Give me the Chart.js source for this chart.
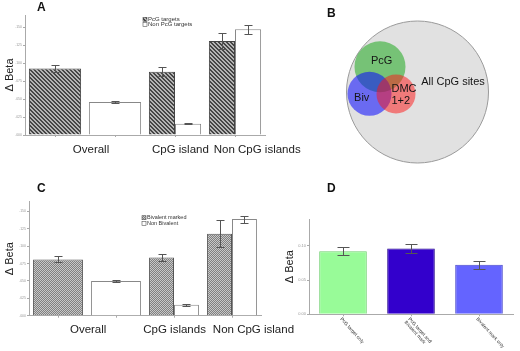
<!DOCTYPE html>
<html>
<head>
<meta charset="utf-8">
<script src="https://cdn.jsdelivr.net/npm/chart.js@4.4.1/dist/chart.umd.min.js"></script>
<style>
  body { margin: 0; width: 520px; height: 351px; background: #fff; position: relative; overflow: hidden; }
  canvas { position: absolute; }
  .tag { position: absolute; z-index: 2; font: bold 12px "Liberation Sans", Arial, sans-serif; line-height: 14px; color: #111; }
</style>
</head>
<body>
<canvas id="chartB" width="235" height="175" style="left:285px;top:0"></canvas>
<canvas id="chartA" width="305" height="165" style="left:0;top:0"></canvas>
<canvas id="chartD" width="240" height="176" style="left:280px;top:175px"></canvas>
<canvas id="chartC" width="300" height="176" style="left:0;top:175px"></canvas>
<div class="tag" style="left:37px;top:0">A</div>
<div class="tag" style="left:327px;top:6px">B</div>
<div class="tag" style="left:37px;top:181px">C</div>
<div class="tag" style="left:327px;top:181px">D</div>
<script>
// panel A: PcG targets vs non PcG targets (slot 0/1 = overall pair)
const slotsA = ["Overall PcG", "Overall non PcG", "CpG island", "Non CpG islands"];
const groupsA = ["Overall", "CpG island", "Non CpG islands"];
const pcgA = [0.0925, null, 0.088, 0.1305];
const pcgErrA = [0.0043, null, 0.0058, 0.0108];
const nonPcgA = [null, 0.0458, 0.0158, 0.147];
const nonPcgErrA = [null, 0.0017, 0.0012, 0.0062];

// panel C: bivalent marked vs non bivalent
const slotsC = ["Overall bivalent", "Overall non bivalent", "CpG islands", "Non CpG island"];
const groupsC = ["Overall", "CpG islands", "Non CpG island"];
const bivC = [0.081, null, 0.0838, 0.118];
const bivErrC = [0.0043, null, 0.0048, 0.019];
const nonBivC = [null, 0.0498, 0.0158, 0.139];
const nonBivErrC = [null, 0.0013, 0.0012, 0.005];

// panel D
const labelsD = ["PcG target only", ["PcG target and", "Bivalent mark"], "Bivalent mark only"];
const valuesD = [0.0921, 0.0959, 0.0721];
const errD = [0.0058, 0.0068, 0.0056];

// panel B: venn circles
const vennNames = ["All CpG sites", "PcG", "Biv", "DMC\n1+2"];
const vennX = [0, -37.5, -48, -21.5];
const vennY = [0, 25.3, -1.8, -2];
const vennR = [71, 25.5, 22, 19.5];

const FONT = '"Liberation Sans", Arial, sans-serif';
Chart.defaults.font.family = FONT;

function hatch() {
  const c = document.createElement("canvas");
  c.width = c.height = 4;
  const g = c.getContext("2d");
  g.fillStyle = "#b4b4b4";
  g.fillRect(0, 0, 4, 4);
  g.fillStyle = "#464646";
  for (let i = 0; i < 4; i++) {
    g.fillRect(i, i, 1, 1);
    g.fillRect((i + 1) % 4, i, 1, 1);
  }
  return g.createPattern(c, "repeat");
}

function checker() {
  const c = document.createElement("canvas");
  c.width = c.height = 2;
  const g = c.getContext("2d");
  g.fillStyle = "#c8c8c8";
  g.fillRect(0, 0, 2, 2);
  g.fillStyle = "#808080";
  g.fillRect(0, 0, 1, 1);
  g.fillRect(1, 1, 1, 1);
  return g.createPattern(c, "repeat");
}

const errorBars = {
  id: "errorBars",
  afterDatasetsDraw(chart, args, opts) {
    const { ctx } = chart;
    const y = chart.scales.y;
    const w = opts.cap || 4;
    chart.data.datasets.forEach((ds, i) => {
      if (!ds.errors) return;
      chart.getDatasetMeta(i).data.forEach((bar, j) => {
        const v = ds.data[j];
        const e = ds.errors[j];
        if (v == null || e == null) return;
        const top = Math.round(y.getPixelForValue(v + e)) + 0.5;
        const bot = Math.round(y.getPixelForValue(v - e)) + 0.5;
        const x = Math.round(bar.x) + 0.5;
        ctx.save();
        ctx.strokeStyle = "#555";
        ctx.lineWidth = 1;
        ctx.beginPath();
        ctx.moveTo(x, top); ctx.lineTo(x, bot);
        ctx.moveTo(x - w, top); ctx.lineTo(x + w, top);
        ctx.moveTo(x - w, bot); ctx.lineTo(x + w, bot);
        ctx.stroke();
        ctx.restore();
      });
    });
  }
};

const groupLabels = {
  id: "groupLabels",
  afterDraw(chart, args, opts) {
    if (!opts.labels) return;
    const { ctx, chartArea } = chart;
    const x = chart.scales.x;
    ctx.save();
    ctx.font = "11.5px " + FONT;
    ctx.fillStyle = "#222";
    ctx.textAlign = "center";
    ctx.textBaseline = "middle";
    opts.labels.forEach((t, i) => {
      ctx.fillText(t, x.getPixelForValue(opts.at[i]), chartArea.bottom + opts.dy);
    });
    ctx.restore();
  }
};

const boxLegend = {
  id: "boxLegend",
  afterDraw(chart, args, opts) {
    if (opts.x == null) return;
    const { ctx } = chart;
    ctx.save();
    ctx.font = opts.size + "px " + FONT;
    ctx.textBaseline = "middle";
    chart.data.datasets.forEach((ds, i) => {
      const y = opts.y + i * opts.gap;
      ctx.fillStyle = ds.backgroundColor;
      ctx.fillRect(opts.x, y - 2, 4, 4);
      ctx.strokeStyle = "#555";
      ctx.lineWidth = 0.6;
      ctx.strokeRect(opts.x, y - 2, 4, 4);
      ctx.fillStyle = "#333";
      ctx.fillText(ds.label, opts.x + 5, y);
    });
    ctx.restore();
  }
};

const slantLabels = {
  id: "slantLabels",
  afterDraw(chart, args, opts) {
    if (!opts.on) return;
    const { ctx, chartArea } = chart;
    const x = chart.scales.x;
    ctx.save();
    ctx.font = "4.8px " + FONT;
    ctx.fillStyle = "#333";
    ctx.textBaseline = "middle";
    chart.data.labels.forEach((lab, i) => {
      const lines = Array.isArray(lab) ? lab : [lab];
      ctx.save();
      ctx.translate(x.getPixelForValue(i) - 2, chartArea.bottom + 4);
      ctx.rotate(Math.PI / 4 + 0.05);
      lines.forEach((l, k) => ctx.fillText(l, 0, k * 5));
      ctx.restore();
    });
    ctx.restore();
  }
};

function yAxis(max, step, width, fmt, size) {
  return {
    min: 0,
    max: max,
    ticks: { stepSize: step, font: { size: size }, color: "#999", padding: 1, callback: fmt },
    afterBuildTicks: (s) => { s.ticks = s.ticks.filter((t) => t.value <= max - step * 0.5); },
    grid: { drawOnChartArea: false, tickLength: 2, color: "#aaa" },
    border: { color: "#aaa" },
    title: { display: true, text: "Δ Beta", font: { size: 11 }, color: "#222", padding: 3 },
    afterFit: (s) => { s.width = width; }
  };
}

function xAxis(height) {
  return {
    ticks: { display: false },
    grid: { drawOnChartArea: false, offset: false, tickLength: 2, color: "#aaa" },
    border: { color: "#aaa" },
    afterFit: (s) => { s.height = height; }
  };
}

const fmt3 = (v) => v.toFixed(3).replace(/^0/, "");

function groupedChart(id, slots, sets, cfg) {
  return new Chart(document.getElementById(id), {
    type: "bar",
    data: { labels: slots, datasets: sets },
    options: {
      responsive: false,
      animation: false,
      layout: { padding: cfg.padding },
      plugins: {
        legend: { display: false },
        tooltip: { enabled: false },
        errorBars: { cap: 4 },
        groupLabels: cfg.groups,
        boxLegend: cfg.legend,
        slantLabels: { on: false }
      },
      scales: {
        x: xAxis(cfg.xHeight),
        y: yAxis(cfg.max, 0.025, cfg.yWidth, fmt3, 3.5)
      }
    },
    plugins: [errorBars, groupLabels, boxLegend, slantLabels]
  });
}

const hatchFill = hatch();
const checkFill = checker();

groupedChart("chartA", slotsA, [
  { label: "PcG targets", data: pcgA, errors: pcgErrA, backgroundColor: hatchFill,
    borderColor: "#444", borderWidth: 1, skipNull: true, categoryPercentage: 0.87, barPercentage: 1 },
  { label: "Non PcG targets", data: nonPcgA, errors: nonPcgErrA, backgroundColor: "#fff",
    borderColor: "#888", borderWidth: 1, skipNull: true, categoryPercentage: 0.87, barPercentage: 1 }
], {
  padding: { top: 15, right: 40 },
  xHeight: 30,
  yWidth: 25,
  max: 0.1667,
  groups: { labels: groupsA, at: [0.6, 2.09, 3.37], dy: 14.7 },
  legend: { x: 143, y: 19.3, gap: 5, size: 6 }
});

groupedChart("chartC", slotsC, [
  { label: "Bivalent marked", data: bivC, errors: bivErrC, backgroundColor: checkFill,
    borderColor: "#555", borderWidth: 1, skipNull: true, categoryPercentage: 0.86, barPercentage: 1 },
  { label: "Non Bivalent", data: nonBivC, errors: nonBivErrC, backgroundColor: "#fff",
    borderColor: "#888", borderWidth: 1, skipNull: true, categoryPercentage: 0.86, barPercentage: 1 }
], {
  padding: { top: 26.7, right: 39 },
  xHeight: 35.3,
  yWidth: 29,
  max: 0.164,
  groups: { labels: groupsC, at: [0.52, 2.01, 3.37], dy: 14 },
  legend: { x: 142, y: 42.7, gap: 5.6, size: 5.5 }
});

new Chart(document.getElementById("chartD"), {
  type: "bar",
  data: {
    labels: labelsD,
    datasets: [{
      data: valuesD,
      errors: errD,
      backgroundColor: ["#98fb98", "#3300cc", "#6464ff"],
      borderColor: ["#6ccf6c", "#22008a", "#4646c8"],
      borderWidth: 1,
      categoryPercentage: 0.7,
      barPercentage: 1
    }]
  },
  options: {
    responsive: false,
    animation: false,
    layout: { padding: { top: 44, right: 7 } },
    plugins: {
      legend: { display: false },
      tooltip: { enabled: false },
      errorBars: { cap: 6 },
      groupLabels: {},
      boxLegend: {},
      slantLabels: { on: true }
    },
    scales: {
      x: xAxis(36.7),
      y: yAxis(0.139, 0.05, 29, (v) => v.toFixed(2), 4)
    }
  },
  plugins: [errorBars, groupLabels, boxLegend, slantLabels]
});

// venn text positions relative to circle centres (pixels)
const vennText = {
  id: "vennText",
  afterDatasetsDraw(chart) {
    const { ctx } = chart;
    const pts = chart.getDatasetMeta(0).data;
    const place = [
      { dx: 35.5, dy: -10.3, align: "center" },
      { dx: 1.7, dy: -5.7, align: "center" },
      { dx: -7.8, dy: 4.2, align: "center" },
      { dx: -4.5, dy: -5, align: "left" }
    ];
    ctx.save();
    ctx.font = "11px " + FONT;
    ctx.fillStyle = "#151515";
    ctx.textBaseline = "middle";
    vennNames.forEach((name, i) => {
      const p = place[i];
      ctx.textAlign = p.align;
      name.split("\n").forEach((line, k) => {
        ctx.fillText(line, pts[i].x + p.dx, pts[i].y + p.dy + k * 11.7);
      });
    });
    ctx.restore();
  }
};

new Chart(document.getElementById("chartB"), {
  type: "bubble",
  data: {
    datasets: [{
      data: vennNames.map((n, i) => ({ x: vennX[i], y: vennY[i], r: vennR[i] })),
      backgroundColor: ["#e1e1e1", "rgba(20,165,20,0.52)", "rgba(10,10,255,0.55)", "rgba(255,20,20,0.5)"],
      borderColor: ["#9a9a9a", "rgba(0,0,0,0)", "rgba(0,0,0,0)", "rgba(0,0,0,0)"],
      borderWidth: [1, 0, 0, 0],
      hoverRadius: 0,
      clip: false
    }]
  },
  options: {
    responsive: false,
    animation: false,
    events: [],
    layout: { padding: 0, autoPadding: false },
    plugins: { legend: { display: false }, tooltip: { enabled: false } },
    scales: {
      x: { display: false, min: -132.5, max: 102.5 },
      y: { display: false, min: -83, max: 92 }
    }
  },
  plugins: [vennText]
});
</script>
</body>
</html>
